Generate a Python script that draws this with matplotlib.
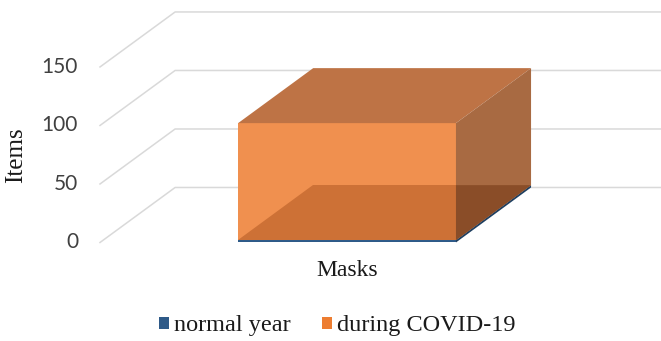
import matplotlib
matplotlib.use('Agg')
import matplotlib.pyplot as plt
from matplotlib.patches import Polygon, Patch

# data
categories = ['Masks']
series_names = ['normal year', 'during COVID-19']
normal_year = [2]
during_covid = [100]
y_ticks = [0, 50, 100, 150]

# 3D look (oblique depth offset in data units)
DX = 0.152
DY = 47
BAR_W = 0.441

blue = '#2E5A88'
orange = '#ED7D31'

fig = plt.figure(figsize=(6.61, 3.41), dpi=100)
ax = fig.add_axes([0.1513, 0.2889, 0.861, 0.676])
ax.set_xlim(-0.5, 0.5 + DX)
ax.set_ylim(0, 150 + DY)
ax.axis('off')


def face(pts, color, z):
    ax.add_patch(Polygon(pts, closed=True, facecolor=color, edgecolor='none',
                         zorder=z, clip_on=False))


def draw_box(xc, y0, y1, c_front, c_front_low, c_top, c_side, c_side_low, z):
    x0, x1 = xc - BAR_W / 2, xc + BAR_W / 2
    # front face
    face([(x0, y0), (x1, y0), (x1, y1), (x0, y1)], c_front, z)
    # bottom face seen through the front
    if c_front_low:
        top = min(y0 + DY, y1)
        face([(x0, y0), (x1, y0), (x1, top), (x0 + DX * (top - y0) / DY, top)], c_front_low, z + 0.1)
    # top face
    face([(x0, y1), (x1, y1), (x1 + DX, y1 + DY), (x0 + DX, y1 + DY)], c_top, z)
    # right side
    face([(x1, y0), (x1 + DX, y0 + DY), (x1 + DX, y1 + DY), (x1, y1)], c_side, z)
    if c_side_low:
        face([(x1, y0), (x1 + DX, y0 + DY), (x1, y0 + DY)], c_side_low, z + 0.1)


# gridlines on side / back wall
for t in y_ticks:
    ax.plot([-0.5, -0.5 + DX, 0.5 + DX + 0.05], [t, t + DY, t + DY],
            color='#d9d9d9', lw=1.1, zorder=1, clip_on=False)
    ax.annotate(str(t), xy=(-0.5, t), xytext=(-15.8, 0), textcoords='offset points',
                ha='right', va='center', fontsize=15, family='Lato', color='#404040')

for i, cat in enumerate(categories):
    # stacked: normal year at the bottom, COVID on top
    draw_box(i, 0, normal_year[i], blue, None, '#3d6a99', '#1f3f60', None, 3)
    base = normal_year[i]
    draw_box(i, base, base + during_covid[i], '#F0904F', '#CD7136',
             '#BE7345', '#A86A42', '#8A4D28', 4)
    ax.annotate(cat, xy=(i, 0), xytext=(0, -20.5), textcoords='offset points',
                ha='center', va='center', fontsize=17, family='Liberation Serif',
                color='#1a1a1a')

fig.text(16 / 661, 1 - 155 / 341, 'Items', rotation=90, ha='center', va='center',
         fontsize=18, family='Liberation Serif', color='#1a1a1a')

handles = [Patch(facecolor=blue), Patch(facecolor=orange)]
fig.legend(handles, series_names, loc='center', bbox_to_anchor=(337 / 661, 1 - 326 / 341),
           ncol=2, frameon=False, handlelength=0.42, handleheight=0.42,
           handletextpad=0.2, columnspacing=1.3,
           prop={'family': 'Liberation Serif', 'size': 17.5})
for txt in fig.legends[0].get_texts():
    txt.set_color('#1a1a1a')

fig.savefig('out.png', dpi=100)
